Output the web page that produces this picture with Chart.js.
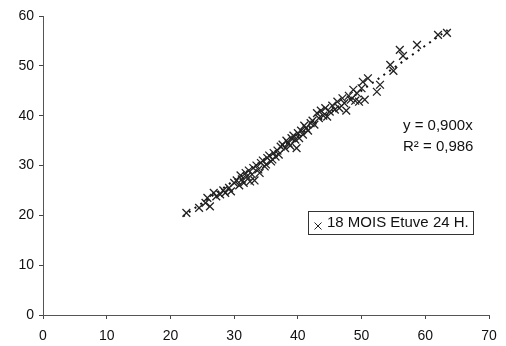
<!DOCTYPE html>
<html>
<head>
<meta charset="utf-8">
<script src="https://cdn.jsdelivr.net/npm/chart.js@4.4.0/dist/chart.umd.min.js"></script>
<style>
html,body{margin:0;padding:0;background:#fff;}
#wrap{width:506px;height:346px;}
</style>
</head>
<body>
<div id="wrap"><canvas id="c" width="506" height="346"></canvas></div>
<script>
const seriesLabel = "18 MOIS Etuve 24 H.";
const xValues = [22.5,24.5,25.5,25.8,26.2,26.8,27.2,27.8,28.3,28.6,29.2,29.5,30,30.4,30.8,31,31.2,31.5,31.8,32,32.3,32.5,32.8,33,33.2,33.5,33.8,34,34.2,34.5,34.8,35,35.2,35.5,35.8,36,36.2,36.5,36.8,37,37.3,37.6,38,38.2,38.5,38.8,39,39.3,39.6,39.8,40,40.2,40.5,40.8,41,41.3,41.6,42,42.3,42.6,43,43.3,43.6,44,44.3,44.6,45,45.4,45.8,46.2,46.5,47,47.3,47.6,48,48.3,48.7,49,49.3,49.6,50,50.2,50.5,51,52.4,52.9,54.5,55,56,56.5,58.7,62,63.4];
const yValues = [20.5,21.5,22.5,23.5,21.8,24.5,23.8,24.2,25,24.5,25.5,24.8,26.5,27,26,28,27.2,26.5,28.5,27.8,29,26.8,28.2,29.5,27,30,29.2,28.5,30.5,31,29.8,30.2,31.5,32,30.8,31.2,32.5,31.8,33,32.2,33.8,34.2,33.5,35,34.5,34,35.5,36,35.2,33.5,36.5,35.5,37,36.2,38,37.5,37,38.5,39,38.2,40.5,39.5,41,40,41.5,39.8,40.8,42,41.2,42.8,41.5,43.5,42.5,41,44,43.2,45.2,43,44.5,42.8,45.5,46.8,43.2,47.5,44.8,46.2,50.2,49,53.2,52,54.2,56.2,56.6];
const trendX = [22, 63.5];
const trendY = [19.8, 57.2];
const equationText = "y = 0,900x";
const r2Text = "R² = 0,986";
const xTicks = [0,10,20,30,40,50,60,70];
const yTicks = [0,10,20,30,40,50,60];

const points = xValues.map((x,i)=>({x:x, y:yValues[i]}));
const trend = trendX.map((x,i)=>({x:x, y:trendY[i]}));
const FONT = "'Liberation Sans', Arial, sans-serif";

const annotPlugin = {
  id:'annot',
  afterDraw(chart){
    const ctx = chart.ctx;
    ctx.save();
    ctx.fillStyle = '#111';
    ctx.font = "15px " + FONT;
    ctx.textBaseline = 'middle';
    ctx.textAlign = 'left';
    ctx.fillText(equationText, 403, 126);
    ctx.fillText(r2Text, 403, 147);
    // legend box
    ctx.strokeStyle = '#333';
    ctx.lineWidth = 1;
    ctx.strokeRect(308.5, 211.5, 165, 23);
    // marker
    const mx = 318, my = 226, r = 3.5;
    ctx.beginPath();
    ctx.moveTo(mx-r,my-r); ctx.lineTo(mx+r,my+r);
    ctx.moveTo(mx+r,my-r); ctx.lineTo(mx-r,my+r);
    ctx.strokeStyle = '#222';
    ctx.stroke();
    ctx.fillText(seriesLabel, 327, 223);
    ctx.restore();
  }
};

new Chart(document.getElementById('c'), {
  type:'scatter',
  data:{
    datasets:[
      {label:seriesLabel, data:points, pointStyle:'crossRot', pointRadius:5.5, pointBorderWidth:1.3,
       borderColor:'#222', backgroundColor:'#222', showLine:false},
      {label:'trend', type:'line', data:trend, borderColor:'#111', borderWidth:2, borderDash:[2,5],
       pointRadius:0, fill:false}
    ]
  },
  options:{
    responsive:false, animation:false,
    layout:{padding:{top:16,right:17,left:0,bottom:0}},
    plugins:{legend:{display:false}, tooltip:{enabled:false}},
    scales:{
      x:{type:'linear', min:0, max:70,
         afterBuildTicks(s){ s.ticks = xTicks.map(v=>({value:v})); },
         afterFit(s){ s.height = 31; },
         grid:{drawOnChartArea:false, drawTicks:true, tickLength:4, color:'#444'},
         border:{color:'#555', width:1},
         ticks:{color:'#111', font:{family:FONT, size:14}, padding:9, maxRotation:0}},
      y:{type:'linear', min:0, max:60,
         afterBuildTicks(s){ s.ticks = yTicks.map(v=>({value:v})); },
         afterFit(s){ s.width = 43; },
         grid:{drawOnChartArea:false, drawTicks:true, tickLength:4, color:'#444'},
         border:{color:'#555', width:1},
         ticks:{color:'#111', font:{family:FONT, size:14}, padding:5}}
    }
  },
  plugins:[annotPlugin]
});
</script>
</body>
</html>
